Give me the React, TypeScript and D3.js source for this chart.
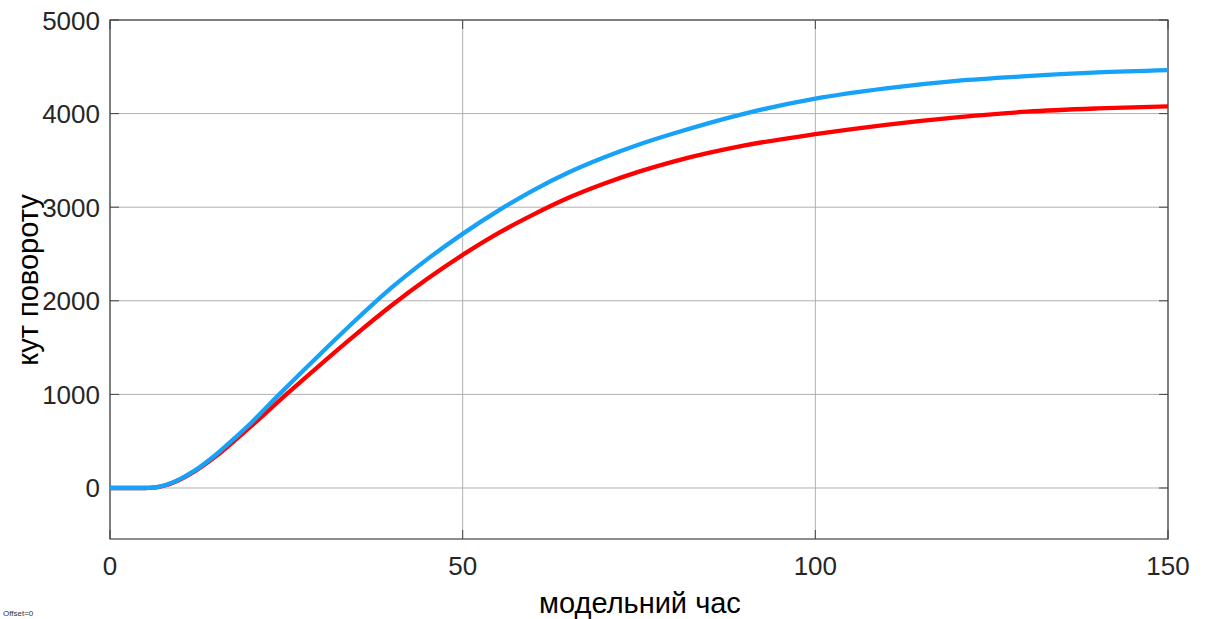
import React from "react";
import * as d3 from "d3";

const timeBlue = [0, 4, 5, 6, 7, 8, 10, 12, 15, 18, 20, 24, 30, 35, 40, 45, 50, 55, 60, 65, 70, 75, 80, 90, 100, 110, 120, 130, 140, 150];
const angleBlue = [0, 0, 0, 3, 14, 34, 98, 185, 355, 555, 695, 1000, 1445, 1805, 2145, 2445, 2715, 2960, 3180, 3370, 3530, 3670, 3790, 4000, 4160, 4270, 4350, 4400, 4440, 4465];

const timeRed = [0, 4, 5, 6, 7, 8, 10, 12, 15, 18, 20, 25, 30, 35, 40, 45, 50, 55, 60, 65, 70, 75, 80, 90, 100, 110, 120, 130, 140, 150];
const angleRed = [0, 0, 0, 3, 13, 32, 94, 178, 338, 528, 660, 1000, 1330, 1650, 1955, 2235, 2490, 2720, 2920, 3100, 3250, 3380, 3490, 3660, 3780, 3880, 3960, 4020, 4055, 4078];

const xTicks = [0, 50, 100, 150];
const yTicks = [0, 1000, 2000, 3000, 4000, 5000];

const W = 1206, H = 619;
const L = 110, R = 1168, T = 20, B = 539;

export default function App() {
  const x = d3.scaleLinear().domain([0, 150]).range([L, R]);
  const y = d3.scaleLinear().domain([-545, 5000]).range([B, T]);
  const line = d3.line<number>().curve(d3.curveMonotoneX);
  const pts = (ts: number[], vs: number[]) => ts.map((t, i) => [x(t), y(vs[i])] as [number, number]);
  const redPath = line(pts(timeRed, angleRed) as any) || "";
  const bluePath = line(pts(timeBlue, angleBlue) as any) || "";
  const font = "'Liberation Sans', Arial, Helvetica, sans-serif";
  const tc = "#262626";
  return (
    <svg width={W} height={H} style={{ position: "absolute", left: 0, top: 0, background: "#fff" }} fontFamily={font}>
      <rect x={0} y={0} width={W} height={H} fill="#fff" />
      {xTicks.map((t) => (
        <g key={"xg" + t}>
          <line x1={x(t)} x2={x(t)} y1={T} y2={B} stroke="#b0b0b0" strokeWidth={1} />
          <line x1={x(t)} x2={x(t)} y1={B} y2={B - 9} stroke="#444" strokeWidth={1} />
          <line x1={x(t)} x2={x(t)} y1={T} y2={T + 9} stroke="#444" strokeWidth={1} />
          <text x={x(t)} y={575} textAnchor="middle" fontSize={26} fill={tc}>{t}</text>
        </g>
      ))}
      {yTicks.map((v) => (
        <g key={"yg" + v}>
          <line x1={L} x2={R} y1={y(v)} y2={y(v)} stroke="#b0b0b0" strokeWidth={1} />
          <line x1={L} x2={L + 9} y1={y(v)} y2={y(v)} stroke="#444" strokeWidth={1} />
          <line x1={R} x2={R - 9} y1={y(v)} y2={y(v)} stroke="#444" strokeWidth={1} />
          <text x={L - 10} y={y(v) + 9.5} textAnchor="end" fontSize={26} fill={tc}>{v}</text>
        </g>
      ))}
      <rect x={L} y={T} width={R - L} height={B - T} fill="none" stroke="#444" strokeWidth={1.2} />
      <path d={redPath} fill="none" stroke="#ff0000" strokeWidth={4.3} strokeLinejoin="round" />
      <path d={bluePath} fill="none" stroke="#17a2f7" strokeWidth={4.3} strokeLinejoin="round" />
      <text x={640} y={613} textAnchor="middle" fontSize={29} fill="#000">модельний час</text>
      <text transform={`translate(38,280) rotate(-90)`} textAnchor="middle" fontSize={29} fill="#000">кут повороту</text>
      <text x={3} y={616} fontSize={8} fill="#333">Offset=0</text>
    </svg>
  );
}
